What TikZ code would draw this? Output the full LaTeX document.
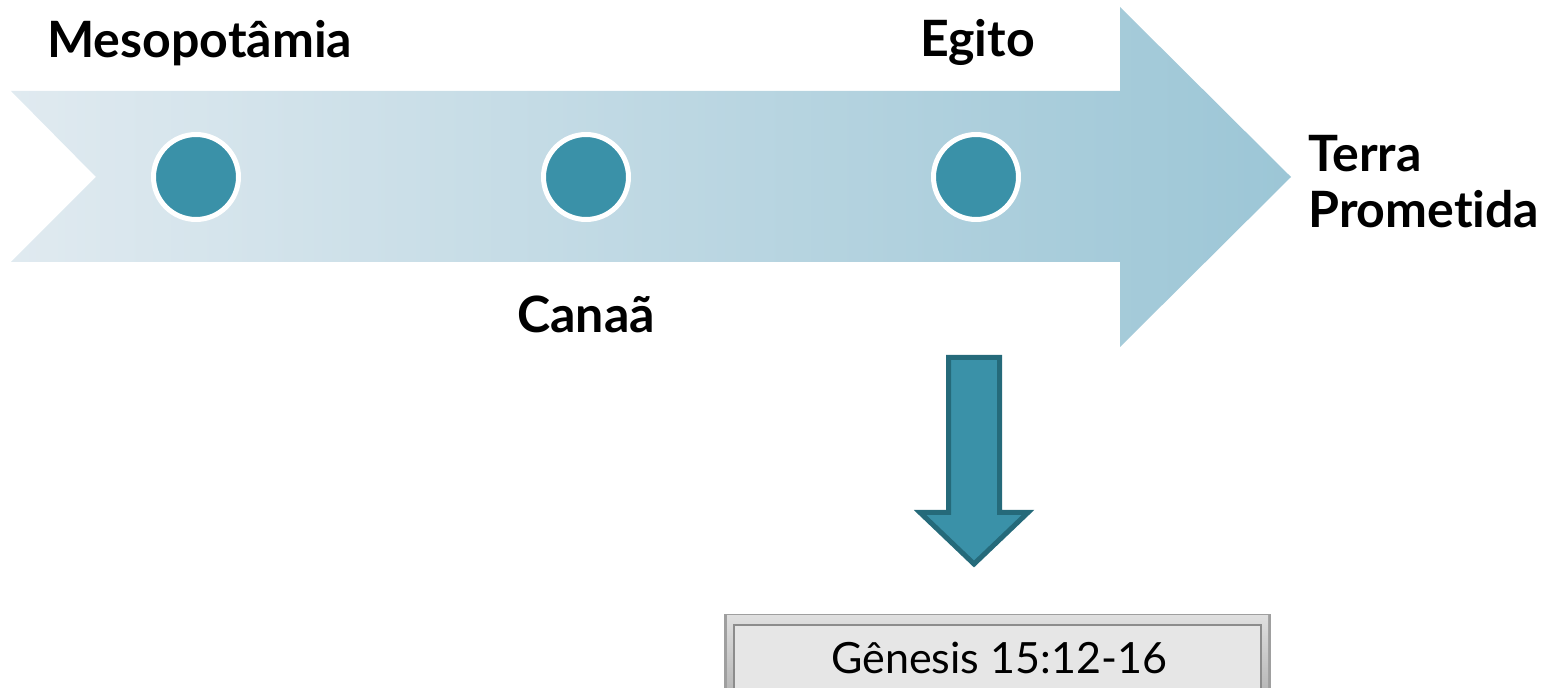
\documentclass[tikz,border=0pt]{standalone}
\usepackage{fontspec}
\setmainfont{Lato}[Ligatures=NoCommon]
\usetikzlibrary{positioning}

\definecolor{dotteal}{HTML}{3A91A8}
\definecolor{darkteal}{HTML}{256A7A}
\definecolor{bandlight}{HTML}{E0EAF0}
\definecolor{banddark}{HTML}{9CC6D6}
\definecolor{boxgray}{HTML}{E6E6E6}

\tikzset{
  stop/.style={circle, fill=dotteal, draw=white, line width=0.1cm,
    minimum size=1.7cm, inner sep=0},
  place/.style={font=\fontsize{28.5}{33}\selectfont\bfseries, inner sep=0},
}

\begin{document}
\begin{tikzpicture}[x=0.02cm, y=-0.02cm]

\useasboundingbox (0,0) rectangle (1563,688);

% timeline band
\shade[left color=bandlight, right color=banddark]
(11,91) -- (1120,91) -- (1120,7) -- (1291,177) -- (1120,347)
-- (1120,262) -- (11,262) -- (96,177) -- cycle;

% stations
\foreach \x/\n in {196/meso, 586/canaan, 976/egypt}
  \node[stop] (\n) at (\x,177) {};

% place names
\node[place, anchor=base west] (mesoname) at (47,58) {Mesopotâmia};
\node[place, anchor=base west] (canaanname) at (517,333) {Canaã};
\node[place, anchor=base west] (egyptname) at (920,57) {Egito};
\node[place, anchor=base west] (terra) at (1308,172) {Terra};
\node[place, anchor=base west] (prometida) at (1308,228) {Prometida};

% down arrow
\draw[fill=dotteal, draw=darkteal, line width=0.1cm, line join=miter]
(948.5,357.5) -- (999.5,357.5) -- (999.5,512.5) -- (1028,512.5)
-- (974,564) -- (920,512.5) -- (948.5,512.5) -- cycle;

% reference box
\fill[gray!75] (724,614) rectangle (1271,700);
\fill[top color=gray!25, bottom color=gray!60] (727,616) rectangle (1268,700);
\fill[boxgray] (734,625) rectangle (1261,700);
\draw[gray!90, line width=0.6pt] (734,700) -- (734,625) -- (1261,625) -- (1261,700);
\node[font=\fontsize{24.5}{30}\selectfont, inner sep=0, anchor=base]
(genesis) at (999,674) {Gênesis 15:12-16};

\end{tikzpicture}
\end{document}
